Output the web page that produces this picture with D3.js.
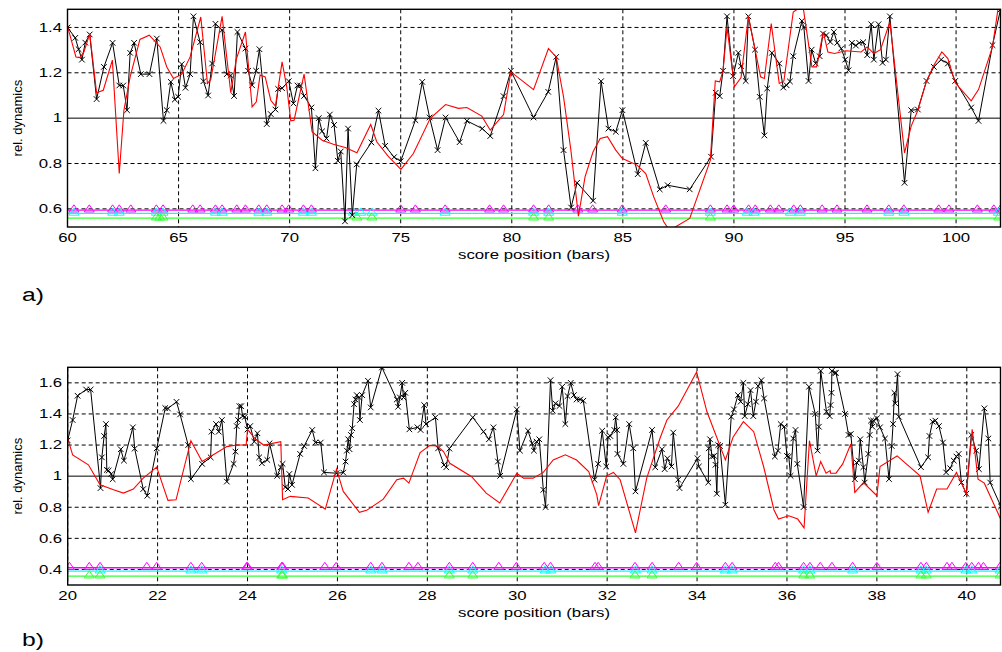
<!DOCTYPE html>
<html><head><meta charset="utf-8">
<script src="https://cdn.jsdelivr.net/npm/d3@7"></script>
<style>
body{margin:0;background:#fff}
text{font-family:"Liberation Sans",Arial,Helvetica,sans-serif;fill:#000}
</style>
</head><body>
<svg id="c" width="1002" height="652"></svg>
<script>
// ---------- Panel a data ----------
const aBlackX=[60.0,60.35,60.5,60.65,60.8,61.0,61.31,61.64,62.03,62.33,62.51,62.68,62.82,63.0,63.3,63.69,64.02,64.32,64.47,64.65,64.83,64.98,65.14,65.31,65.52,65.67,65.97,66.12,66.33,66.51,66.66,66.96,67.17,67.35,67.5,67.65,68.01,68.13,68.31,68.49,68.64,68.97,69.15,69.36,69.48,69.66,69.96,70.17,70.35,70.47,70.65,70.98,71.16,71.31,71.46,71.66,71.81,72.0,72.17,72.3,72.49,72.63,72.82,73.02,73.68,74.0,74.3,74.7,75.0,75.66,75.97,76.3,76.66,77.02,77.65,77.98,78.67,79.03,79.63,79.96,80.98,81.64,82.0,82.33,82.67,82.94,83.66,84.02,84.35,84.68,84.98,85.67,86.03,86.66,87.02,88.01,88.97,89.18,89.36,89.51,89.69,89.96,90.2,90.32,90.53,90.65,90.95,91.16,91.37,91.5,91.71,92.04,92.22,92.37,92.52,92.67,93.06,93.15,93.36,93.5,93.68,93.86,94.01,94.16,94.34,94.5,94.65,94.83,95.01,95.16,95.31,95.49,95.64,95.82,96.0,96.18,96.3,96.51,96.69,96.84,97.02,97.68,97.98,98.28,98.67,99.0,99.33,99.63,99.96,100.68,101.01,101.64,102.0];
const aBlackY=[1.40,1.354,1.304,1.258,1.333,1.369,1.084,1.226,1.332,1.144,1.144,1.035,1.288,1.332,1.194,1.194,1.351,0.988,1.035,1.16,1.082,1.094,1.238,1.134,1.194,1.449,1.335,1.163,1.10,1.241,1.416,1.388,1.194,1.188,1.098,1.38,1.307,1.209,1.145,1.209,1.304,0.974,1.018,1.038,1.129,1.132,1.163,1.065,1.144,1.144,1.098,1.047,0.779,1.0,0.942,0.91,1.016,0.97,0.812,0.853,0.545,0.954,0.572,0.796,0.893,1.033,0.878,0.828,0.81,0.991,1.16,1.003,0.859,1.003,0.894,0.988,0.954,0.921,1.097,1.209,1.003,1.116,1.27,0.859,0.606,0.715,0.636,1.163,0.954,0.94,1.035,0.753,0.891,0.686,0.704,0.686,0.83,1.112,1.097,1.209,1.449,1.185,1.288,1.229,1.164,1.449,1.302,1.094,0.924,1.131,1.288,1.241,1.135,1.145,1.162,1.273,1.429,1.40,1.164,1.302,1.241,1.273,1.373,1.366,1.336,1.38,1.332,1.307,1.258,1.211,1.332,1.32,1.332,1.335,1.278,1.414,1.258,1.414,1.244,1.258,1.449,0.715,1.035,1.038,1.164,1.226,1.258,1.241,1.164,1.047,0.988,1.322,1.479];
const aRedX=[60.0,60.38,60.56,60.74,61.0,61.31,61.61,62.02,62.33,62.54,62.82,63.26,63.68,64.17,64.47,64.77,65.14,65.52,66.0,66.3,66.45,66.96,67.35,67.6,68.01,68.31,68.5,68.67,68.9,69.15,69.36,69.66,69.87,70.05,70.2,70.65,71.01,71.46,71.97,72.5,73.03,73.65,73.92,74.45,75.01,75.57,76.33,77.02,77.6,77.98,78.65,79.03,79.63,79.96,80.98,81.65,82.0,82.33,82.66,83.0,83.3,83.66,83.98,84.31,84.68,84.98,85.64,86.03,86.39,86.84,87.1,88.01,88.94,89.16,89.36,89.51,89.69,90.02,90.32,90.65,91.2,91.37,91.68,92.04,92.25,92.67,93.0,93.1,93.51,93.72,94.02,94.23,94.53,95.03,95.73,96.0,96.3,96.6,97.02,97.68,97.98,98.28,98.67,99.0,99.36,99.63,99.96,100.68,101.01,101.64,101.88,102.0];
const aRedY=[1.405,1.27,1.267,1.292,1.373,1.112,1.123,1.256,0.756,1.035,1.182,1.347,1.366,1.314,1.226,1.175,1.194,1.27,1.446,1.153,1.17,1.449,1.112,1.26,1.38,1.05,1.072,1.19,1.182,1.079,1.053,1.248,1.138,0.988,0.991,1.194,0.94,0.903,0.885,0.871,0.847,0.972,0.896,0.83,0.774,0.844,0.999,1.06,1.043,1.047,1.009,0.947,1.016,1.204,1.126,1.307,1.27,1.094,0.859,0.568,0.742,0.852,0.91,0.918,0.859,0.822,0.793,0.756,0.653,0.543,0.505,0.558,0.815,1.164,1.16,1.209,1.402,1.138,1.179,1.449,1.182,1.175,1.417,1.153,1.164,1.468,1.49,1.50,1.226,1.226,1.38,1.292,1.285,1.297,1.292,1.314,1.285,1.302,1.424,0.847,0.965,1.035,1.164,1.233,1.292,1.263,1.156,1.076,1.126,1.314,1.476,1.52];
const aMagenta=[60.29,60.98,62.03,62.33,62.85,64.0,64.3,65.64,65.97,66.66,66.96,67.62,68.01,68.61,68.97,69.66,69.96,70.62,70.98,75.0,75.66,77.0,79.0,79.63,80.98,81.66,82.97,83.64,84.97,86.93,88.94,89.69,89.99,90.66,90.96,91.64,92.02,92.69,92.99,93.97,94.64,95.99,96.97,97.65,99.22,99.68,100.96,101.7,102.0];
const aCyan=[60.29,62.03,62.33,64.0,64.3,66.66,66.96,68.61,68.97,70.62,70.98,72.87,73.2,73.7,77.0,80.98,81.66,84.97,88.94,90.6,90.9,92.54,92.99,96.97,97.65,101.9];
const aGreen=[64.0,64.15,64.3,73.03,73.7,80.98,81.66,88.94,101.92];
const aLevels=[0.594,0.580,0.559]; // magenta, cyan, green
const aXTicks=[60,65,70,75,80,85,90,95,100];
const aYTicks=[0.6,0.8,1,1.2,1.4];

// ---------- Panel b data ----------
const bBlackX=[20.0,20.11,20.22,20.41,20.51,20.73,20.76,20.81,20.85,20.87,20.91,20.97,21.0,21.18,21.25,21.45,21.49,21.68,21.77,21.98,22.17,22.23,22.42,22.5,22.68,22.74,22.99,23.18,23.2,23.3,23.36,23.43,23.54,23.69,23.73,23.76,23.79,23.82,23.86,23.89,23.94,24.0,24.06,24.15,24.22,24.26,24.32,24.44,24.49,24.66,24.74,24.78,24.84,24.9,24.93,24.99,25.17,25.26,25.44,25.51,25.63,25.7,25.98,26.13,26.18,26.21,26.24,26.27,26.3,26.33,26.37,26.4,26.43,26.48,26.5,26.55,26.68,26.74,26.99,27.32,27.35,27.39,27.44,27.47,27.51,27.6,27.78,27.85,27.93,27.97,28.18,28.24,28.37,28.42,28.49,29.01,29.25,29.37,29.47,29.57,29.62,29.99,30.06,30.24,30.33,30.37,30.43,30.49,30.58,30.63,30.74,30.79,30.85,30.94,31.0,31.07,31.12,31.19,31.26,31.32,31.4,31.47,31.72,31.8,31.89,31.98,32.02,32.07,32.16,32.19,32.22,32.23,32.36,32.49,32.58,32.63,33.0,33.07,33.22,33.28,33.34,33.43,33.47,33.58,33.61,34.01,34.04,34.25,34.26,34.29,34.33,34.38,34.41,34.44,34.47,34.51,34.63,34.76,34.82,34.91,34.97,35.03,35.06,35.13,35.19,35.25,35.31,35.36,35.43,35.49,35.73,35.8,35.86,35.94,36.0,36.04,36.08,36.14,36.19,36.23,36.37,36.49,36.63,36.68,36.71,36.75,36.88,36.95,36.97,36.99,37.0,37.06,37.09,37.29,37.37,37.42,37.51,37.55,37.6,37.63,37.7,37.73,37.81,37.84,37.87,37.9,37.92,38.0,38.07,38.18,38.27,38.33,38.36,38.39,38.41,38.46,38.49,38.98,39.14,39.17,39.24,39.3,39.38,39.47,39.54,39.63,39.71,39.77,39.82,39.88,39.99,40.1,40.21,40.27,40.39,40.48,40.52,40.76];
const bBlackY=[1.23,1.361,1.517,1.557,1.557,0.923,1.121,1.258,1.335,1.04,1.036,1.014,0.98,1.173,1.1,1.314,1.177,0.917,0.874,1.179,1.438,1.435,1.478,1.397,1.2,0.981,1.079,1.121,1.286,1.335,1.286,1.361,0.965,1.079,1.158,1.322,1.361,1.45,1.45,1.386,1.381,1.3,1.322,1.222,1.276,1.121,1.083,1.104,1.211,1.002,1.057,1.079,0.929,0.917,1.014,0.944,1.143,1.194,1.297,1.216,1.216,1.024,1.019,1.023,1.094,1.164,1.237,1.173,1.265,1.308,1.463,1.493,1.521,1.506,1.361,1.521,1.613,1.442,1.699,1.493,1.446,1.506,1.6,1.506,1.536,1.301,1.314,1.297,1.457,1.335,1.378,1.179,1.072,1.057,1.177,1.378,1.286,1.237,1.314,1.094,1.002,1.429,1.164,1.292,1.211,1.164,1.222,1.237,0.912,0.801,1.617,1.421,1.468,1.451,1.575,1.335,1.515,1.6,1.521,1.493,1.493,1.485,0.977,1.079,1.292,1.062,1.25,1.258,1.297,1.378,1.297,1.143,1.079,1.335,1.179,0.902,1.297,1.057,1.173,1.045,1.115,1.062,1.28,0.977,0.923,1.115,1.062,0.959,1.179,1.237,1.126,1.13,1.073,0.887,1.2,1.194,0.816,1.382,1.429,1.521,1.479,1.6,1.386,1.463,1.553,1.386,1.479,1.579,1.617,1.5,1.126,1.164,1.335,1.318,1.13,1.126,1.002,1.242,1.297,1.079,0.801,1.575,1.4,1.164,1.318,1.677,1.414,1.386,1.457,1.536,1.677,1.664,1.664,1.4,1.265,1.271,0.981,1.087,1.1,1.237,1.058,0.959,1.143,1.265,1.357,1.318,1.357,1.372,1.314,1.242,0.981,1.194,1.335,1.536,1.468,1.656,1.382,1.058,1.121,1.258,1.35,1.357,1.322,1.216,1.024,1.051,1.1,1.126,1.143,0.959,0.887,1.265,1.164,1.045,1.436,1.242,0.959,0.805];
const bRedX=[20.0,20.11,20.46,20.72,21.02,21.24,21.46,21.68,21.98,22.23,22.41,22.74,22.99,23.24,23.54,23.76,23.97,24.0,24.18,24.36,24.74,24.78,24.95,25.35,25.73,25.98,26.13,26.49,26.65,27.02,27.32,27.47,27.59,27.84,28.06,28.22,28.36,28.5,28.98,29.31,29.61,29.99,30.14,30.35,30.58,30.8,31.07,31.32,31.59,31.77,31.81,31.99,32.14,32.29,32.63,32.88,33.18,33.33,33.58,33.99,34.22,34.63,34.8,35.03,35.26,35.48,35.71,35.81,36.04,36.24,36.38,36.5,36.65,36.75,36.87,36.96,36.97,37.09,37.24,37.42,37.51,37.7,38.0,38.07,38.45,38.96,39.14,39.33,39.56,39.77,39.99,40.12,40.25,40.39,40.76];
const bRedY=[1.243,1.137,1.073,0.944,0.912,0.891,0.917,0.987,1.058,0.844,0.848,1.228,1.094,1.137,1.19,1.2,1.2,1.3,1.237,1.2,1.222,0.848,0.87,0.859,0.788,1.045,0.902,0.767,0.78,0.852,0.977,0.987,0.955,1.152,1.198,1.194,1.158,1.083,0.998,0.891,0.827,1.019,0.987,0.987,1.024,1.104,1.137,1.104,1.03,0.88,0.81,1.002,1.024,0.977,0.635,0.987,1.247,1.361,1.45,1.67,1.414,1.105,1.25,1.35,1.286,1.062,0.784,0.724,0.745,0.724,0.667,1.228,1.002,1.094,1.019,1.036,1.019,1.019,1.079,1.207,0.895,0.959,0.874,1.062,1.13,1.002,0.767,0.917,0.917,1.024,0.887,1.301,0.981,0.955,0.72];
const bMagenta=[20.04,20.48,20.72,21.76,21.98,22.74,22.98,23.98,24.0,24.76,24.78,25.72,25.97,26.74,26.99,27.59,27.79,28.49,29.01,29.59,29.98,30.6,30.74,31.73,31.8,32.62,33.0,33.59,33.99,34.63,34.78,35.74,35.81,36.37,36.51,36.74,37.0,37.46,38.0,38.98,39.1,39.56,39.67,39.98,40.11,40.26,40.37,40.74];
const bCyan=[20.72,22.74,22.98,24.76,26.74,26.99,28.49,29.01,30.62,30.75,32.63,33.0,34.63,34.78,36.37,36.51,37.46,38.98,39.1,39.98,40.11,40.74];
const bGreen=[20.48,20.72,24.76,24.78,28.49,29.01,32.62,33.0,36.37,36.51,38.98,39.1,40.74];
const bLevels=[0.411,0.389,0.357];
const bXTicks=[20,22,24,26,28,30,32,34,36,38,40];
const bYTicks=[0.4,0.6,0.8,1,1.2,1.4,1.6];

const xLabel="score position (bars)";
const yLabel="rel. dynamics";
const triColors=["#ff00ff","#00ffff","#33ff33"];

const svg=d3.select("#c");

function panel(o){
  const x=d3.scaleLinear().domain(o.xd).range([o.l,o.r]);
  const y=d3.scaleLinear().domain(o.yd).range([o.b,o.t]);
  const g=svg.append("g");
  const cid="clip"+o.id;
  svg.append("defs").append("clipPath").attr("id",cid).append("rect")
    .attr("x",o.l).attr("y",o.t).attr("width",o.r-o.l).attr("height",o.b-o.t);
  // grid
  g.selectAll(".gx").data(o.xt).enter().append("line")
    .attr("x1",d=>x(d)).attr("x2",d=>x(d)).attr("y1",o.t).attr("y2",o.b)
    .attr("stroke","#000").attr("stroke-width",1).attr("stroke-dasharray","4,3");
  g.selectAll(".gy").data(o.yt.filter(d=>d!==1)).enter().append("line")
    .attr("x1",o.l).attr("x2",o.r).attr("y1",d=>y(d)).attr("y2",d=>y(d))
    .attr("stroke","#000").attr("stroke-width",1).attr("stroke-dasharray","4,3");
  g.append("line").attr("x1",o.l).attr("x2",o.r).attr("y1",y(1)).attr("y2",y(1))
    .attr("stroke","#000").attr("stroke-width",1);
  const dg=g.append("g").attr("clip-path",`url(#${cid})`);
  // triangle rows
  const rows=[o.mag,o.cyan,o.green];
  rows.forEach((arr,i)=>{
    const ly=y(o.levels[i]);
    dg.append("line").attr("x1",o.l).attr("x2",o.r).attr("y1",ly).attr("y2",ly)
      .attr("stroke",triColors[i]).attr("stroke-width",1.3);
    dg.selectAll(null).data(arr).enter().append("path")
      .attr("d",d=>{const cx=x(d),cy=ly-1.8;return `M${cx-5},${cy+3.6}L${cx},${cy-3.6}L${cx+5},${cy+3.6}Z`;})
      .attr("fill","none").attr("stroke",triColors[i]).attr("stroke-width",1);
  });
  const line=d3.line().x(d=>x(d[0])).y(d=>y(d[1]));
  const blk=o.bx.map((v,i)=>[v,o.by[i]]);
  const red=o.rx.map((v,i)=>[v,o.ry[i]]);
  dg.append("path").attr("d",line(blk)).attr("fill","none").attr("stroke","#000").attr("stroke-width",1);
  dg.selectAll(null).data(blk).enter().append("path")
    .attr("d",d=>{const cx=x(d[0]),cy=y(d[1]),s=2.8;return `M${cx-s},${cy-s}L${cx+s},${cy+s}M${cx-s},${cy+s}L${cx+s},${cy-s}`;})
    .attr("stroke","#000").attr("stroke-width",1);
  dg.append("path").attr("d",line(red)).attr("fill","none").attr("stroke","#ff0000").attr("stroke-width",1.1);
  // frame
  g.append("rect").attr("x",o.l).attr("y",o.t).attr("width",o.r-o.l).attr("height",o.b-o.t)
    .attr("fill","none").attr("stroke","#000").attr("stroke-width",1.4);
  // tick labels
  g.selectAll(".xl").data(o.xt).enter().append("text")
    .attr("transform",d=>`translate(${x(d)},${o.b+15}) scale(1.4,1)`)
    .attr("text-anchor","middle").style("font-size","12px").text(d=>d3.format("")(d));
  g.selectAll(".yl").data(o.yt).enter().append("text")
    .attr("transform",d=>`translate(${o.l-5.5},${y(d)+4.3}) scale(1.4,1)`)
    .attr("text-anchor","end").style("font-size","12px").text(d=>d3.format("")(d));
  g.append("text").attr("transform",`translate(${(o.l+o.r)/2},${o.b+32}) scale(1.4,1)`)
    .attr("text-anchor","middle").style("font-size","12px").text(xLabel);
  g.append("text").attr("transform",`translate(21.5,${(o.t+o.b)/2}) rotate(-90)`)
    .attr("text-anchor","middle").style("font-size","13px").text(yLabel);
  g.append("text").attr("transform",`translate(22,${o.panelY}) scale(1.3,1)`)
    .style("font-size","19px").text(o.panelLabel);
}

panel({id:"a",l:67.5,r:1000.5,t:9.3,b:227,xd:[60,102],yd:[0.52,1.48],xt:aXTicks,yt:aYTicks,
  bx:aBlackX,by:aBlackY,rx:aRedX,ry:aRedY,mag:aMagenta,cyan:aCyan,green:aGreen,levels:aLevels,
  panelLabel:"a)",panelY:301});
panel({id:"b",l:67.7,r:1000.5,t:367.3,b:585,xd:[20,40.75],yd:[0.3,1.7],xt:bXTicks,yt:bYTicks,
  bx:bBlackX,by:bBlackY,rx:bRedX,ry:bRedY,mag:bMagenta,cyan:bCyan,green:bGreen,levels:bLevels,
  panelLabel:"b)",panelY:646});
</script>
</body></html>
